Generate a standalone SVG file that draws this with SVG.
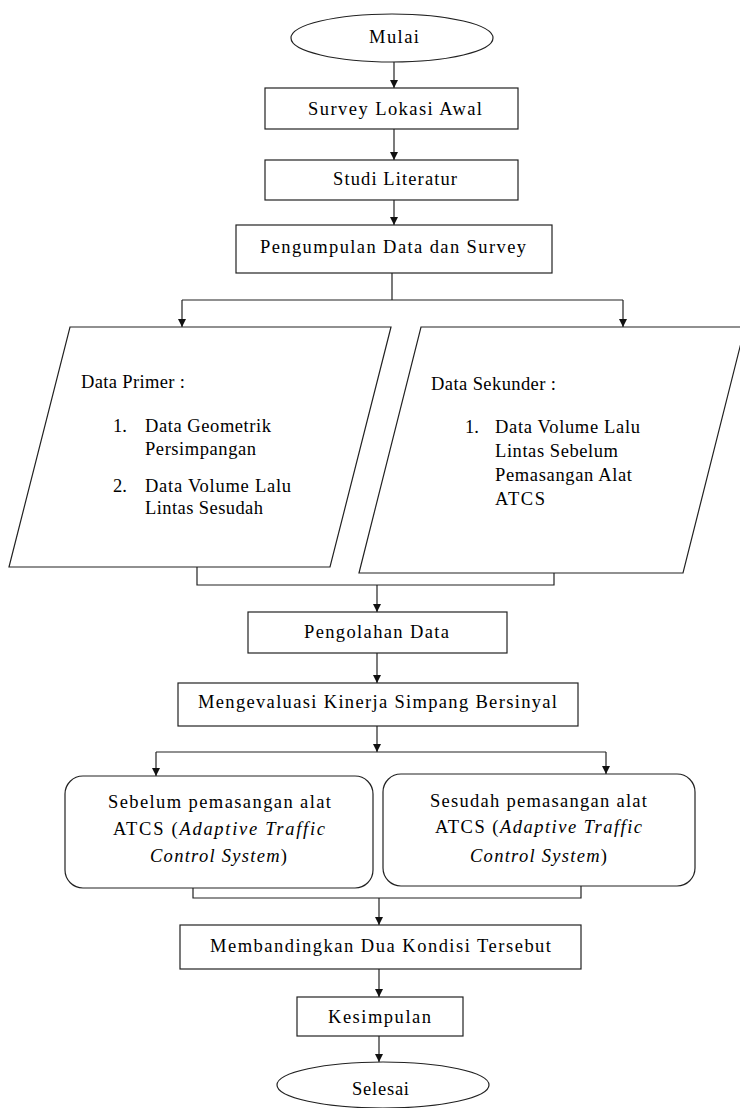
<svg xmlns="http://www.w3.org/2000/svg" width="740" height="1108" viewBox="0 0 740 1108">
<defs>
<style>
.s{fill:#fff;stroke:#222;stroke-width:1.2}
.c{fill:none;stroke:#222;stroke-width:1.2}
text{font-family:"Liberation Serif","Times New Roman",serif;font-size:18.5px;fill:#000}
.i{font-style:italic}
</style>
<marker id="ah" viewBox="0 0 10 10" refX="10" refY="5" markerWidth="8" markerHeight="8" markerUnits="userSpaceOnUse" orient="auto">
<path d="M0,0 L10,5 L0,10 Z" fill="#111"/>
</marker>
</defs>
<rect width="740" height="1108" fill="#fff"/>

<g id="connectors">
<path class="c" d="M394,62 V88" marker-end="url(#ah)"/>
<path class="c" d="M394,129 V160" marker-end="url(#ah)"/>
<path class="c" d="M394,200 V225" marker-end="url(#ah)"/>
<path class="c" d="M392,273 V300 M182,300 H623"/>
<path class="c" d="M182,300 V327" marker-end="url(#ah)"/>
<path class="c" d="M623,300 V327" marker-end="url(#ah)"/>
<path class="c" d="M197,567 V585 H554 V573"/>
<path class="c" d="M377,585 V612" marker-end="url(#ah)"/>
<path class="c" d="M377,653 V683" marker-end="url(#ah)"/>
<path class="c" d="M377,726 V752" marker-end="url(#ah)"/>
<path class="c" d="M156,752 H606"/>
<path class="c" d="M156,752 V776" marker-end="url(#ah)"/>
<path class="c" d="M606,752 V774" marker-end="url(#ah)"/>
<path class="c" d="M193,888 V898 H581 V886"/>
<path class="c" d="M379,898 V925" marker-end="url(#ah)"/>
<path class="c" d="M379,969 V997" marker-end="url(#ah)"/>
<path class="c" d="M379,1036 V1062" marker-end="url(#ah)"/>
</g>

<g id="mulai">
<ellipse class="s" cx="392" cy="38" rx="101" ry="24"/>
<text x="369" y="43" textLength="50" lengthAdjust="spacing">Mulai</text>
</g>

<g id="survey">
<rect class="s" x="265" y="88" width="253" height="41"/>
<text x="308" y="115" textLength="174" lengthAdjust="spacing">Survey Lokasi Awal</text>
</g>

<g id="studi">
<rect class="s" x="265" y="160" width="253" height="40"/>
<text x="333" y="185" textLength="124" lengthAdjust="spacing">Studi Literatur</text>
</g>

<g id="pengumpulan">
<rect class="s" x="236" y="225" width="316" height="48"/>
<text x="260" y="253" textLength="266" lengthAdjust="spacing">Pengumpulan Data dan Survey</text>
</g>

<g id="primer">
<polygon class="s" points="70,327 391,327 330,567 9,567"/>
<text x="81" y="388" textLength="104" lengthAdjust="spacing">Data Primer :</text>
<text x="113" y="432">1.</text>
<text x="145" y="432" textLength="126" lengthAdjust="spacing">Data Geometrik</text>
<text x="145" y="455" textLength="111" lengthAdjust="spacing">Persimpangan</text>
<text x="113" y="492">2.</text>
<text x="145" y="492" textLength="146" lengthAdjust="spacing">Data Volume Lalu</text>
<text x="145" y="514" textLength="118" lengthAdjust="spacing">Lintas Sesudah</text>
</g>

<g id="sekunder">
<polygon class="s" points="421,327 745,327 683,573 359,573"/>
<text x="431" y="390" textLength="125" lengthAdjust="spacing">Data Sekunder :</text>
<text x="465" y="433">1.</text>
<text x="495" y="433" textLength="145" lengthAdjust="spacing">Data Volume Lalu</text>
<text x="495" y="457" textLength="123" lengthAdjust="spacing">Lintas Sebelum</text>
<text x="495" y="481" textLength="137" lengthAdjust="spacing">Pemasangan Alat</text>
<text x="495" y="505" textLength="50" lengthAdjust="spacing">ATCS</text>
</g>

<g id="pengolahan">
<rect class="s" x="248" y="612" width="259" height="41"/>
<text x="304" y="638" textLength="145" lengthAdjust="spacing">Pengolahan Data</text>
</g>

<g id="mengevaluasi">
<rect class="s" x="178" y="683" width="400" height="43"/>
<text x="198" y="708" textLength="359" lengthAdjust="spacing">Mengevaluasi Kinerja Simpang Bersinyal</text>
</g>

<g id="sebelum">
<rect class="s" x="65" y="776" width="308" height="112" rx="18" ry="18"/>
<text x="108" y="808" textLength="223" lengthAdjust="spacing">Sebelum pemasangan alat</text>
<text x="113" y="835" textLength="212" lengthAdjust="spacing">ATCS (<tspan class="i">Adaptive  Traffic</tspan></text>
<text x="150" y="862" textLength="137" lengthAdjust="spacing"><tspan class="i">Control System</tspan>)</text>
</g>

<g id="sesudah">
<rect class="s" x="383" y="774" width="312" height="112" rx="18" ry="18"/>
<text x="430" y="807" textLength="217" lengthAdjust="spacing">Sesudah pemasangan alat</text>
<text x="435" y="833" textLength="207" lengthAdjust="spacing">ATCS (<tspan class="i">Adaptive Traffic</tspan></text>
<text x="470" y="862" textLength="137" lengthAdjust="spacing"><tspan class="i">Control System</tspan>)</text>
</g>

<g id="membandingkan">
<rect class="s" x="180" y="925" width="401" height="44"/>
<text x="210" y="952" textLength="341" lengthAdjust="spacing">Membandingkan Dua Kondisi Tersebut</text>
</g>

<g id="kesimpulan">
<rect class="s" x="297" y="997" width="166" height="39"/>
<text x="328" y="1023" textLength="103" lengthAdjust="spacing">Kesimpulan</text>
</g>

<g id="selesai">
<ellipse class="s" cx="383" cy="1085" rx="106" ry="23"/>
<text x="352" y="1095" textLength="57" lengthAdjust="spacing">Selesai</text>
</g>
</svg>
